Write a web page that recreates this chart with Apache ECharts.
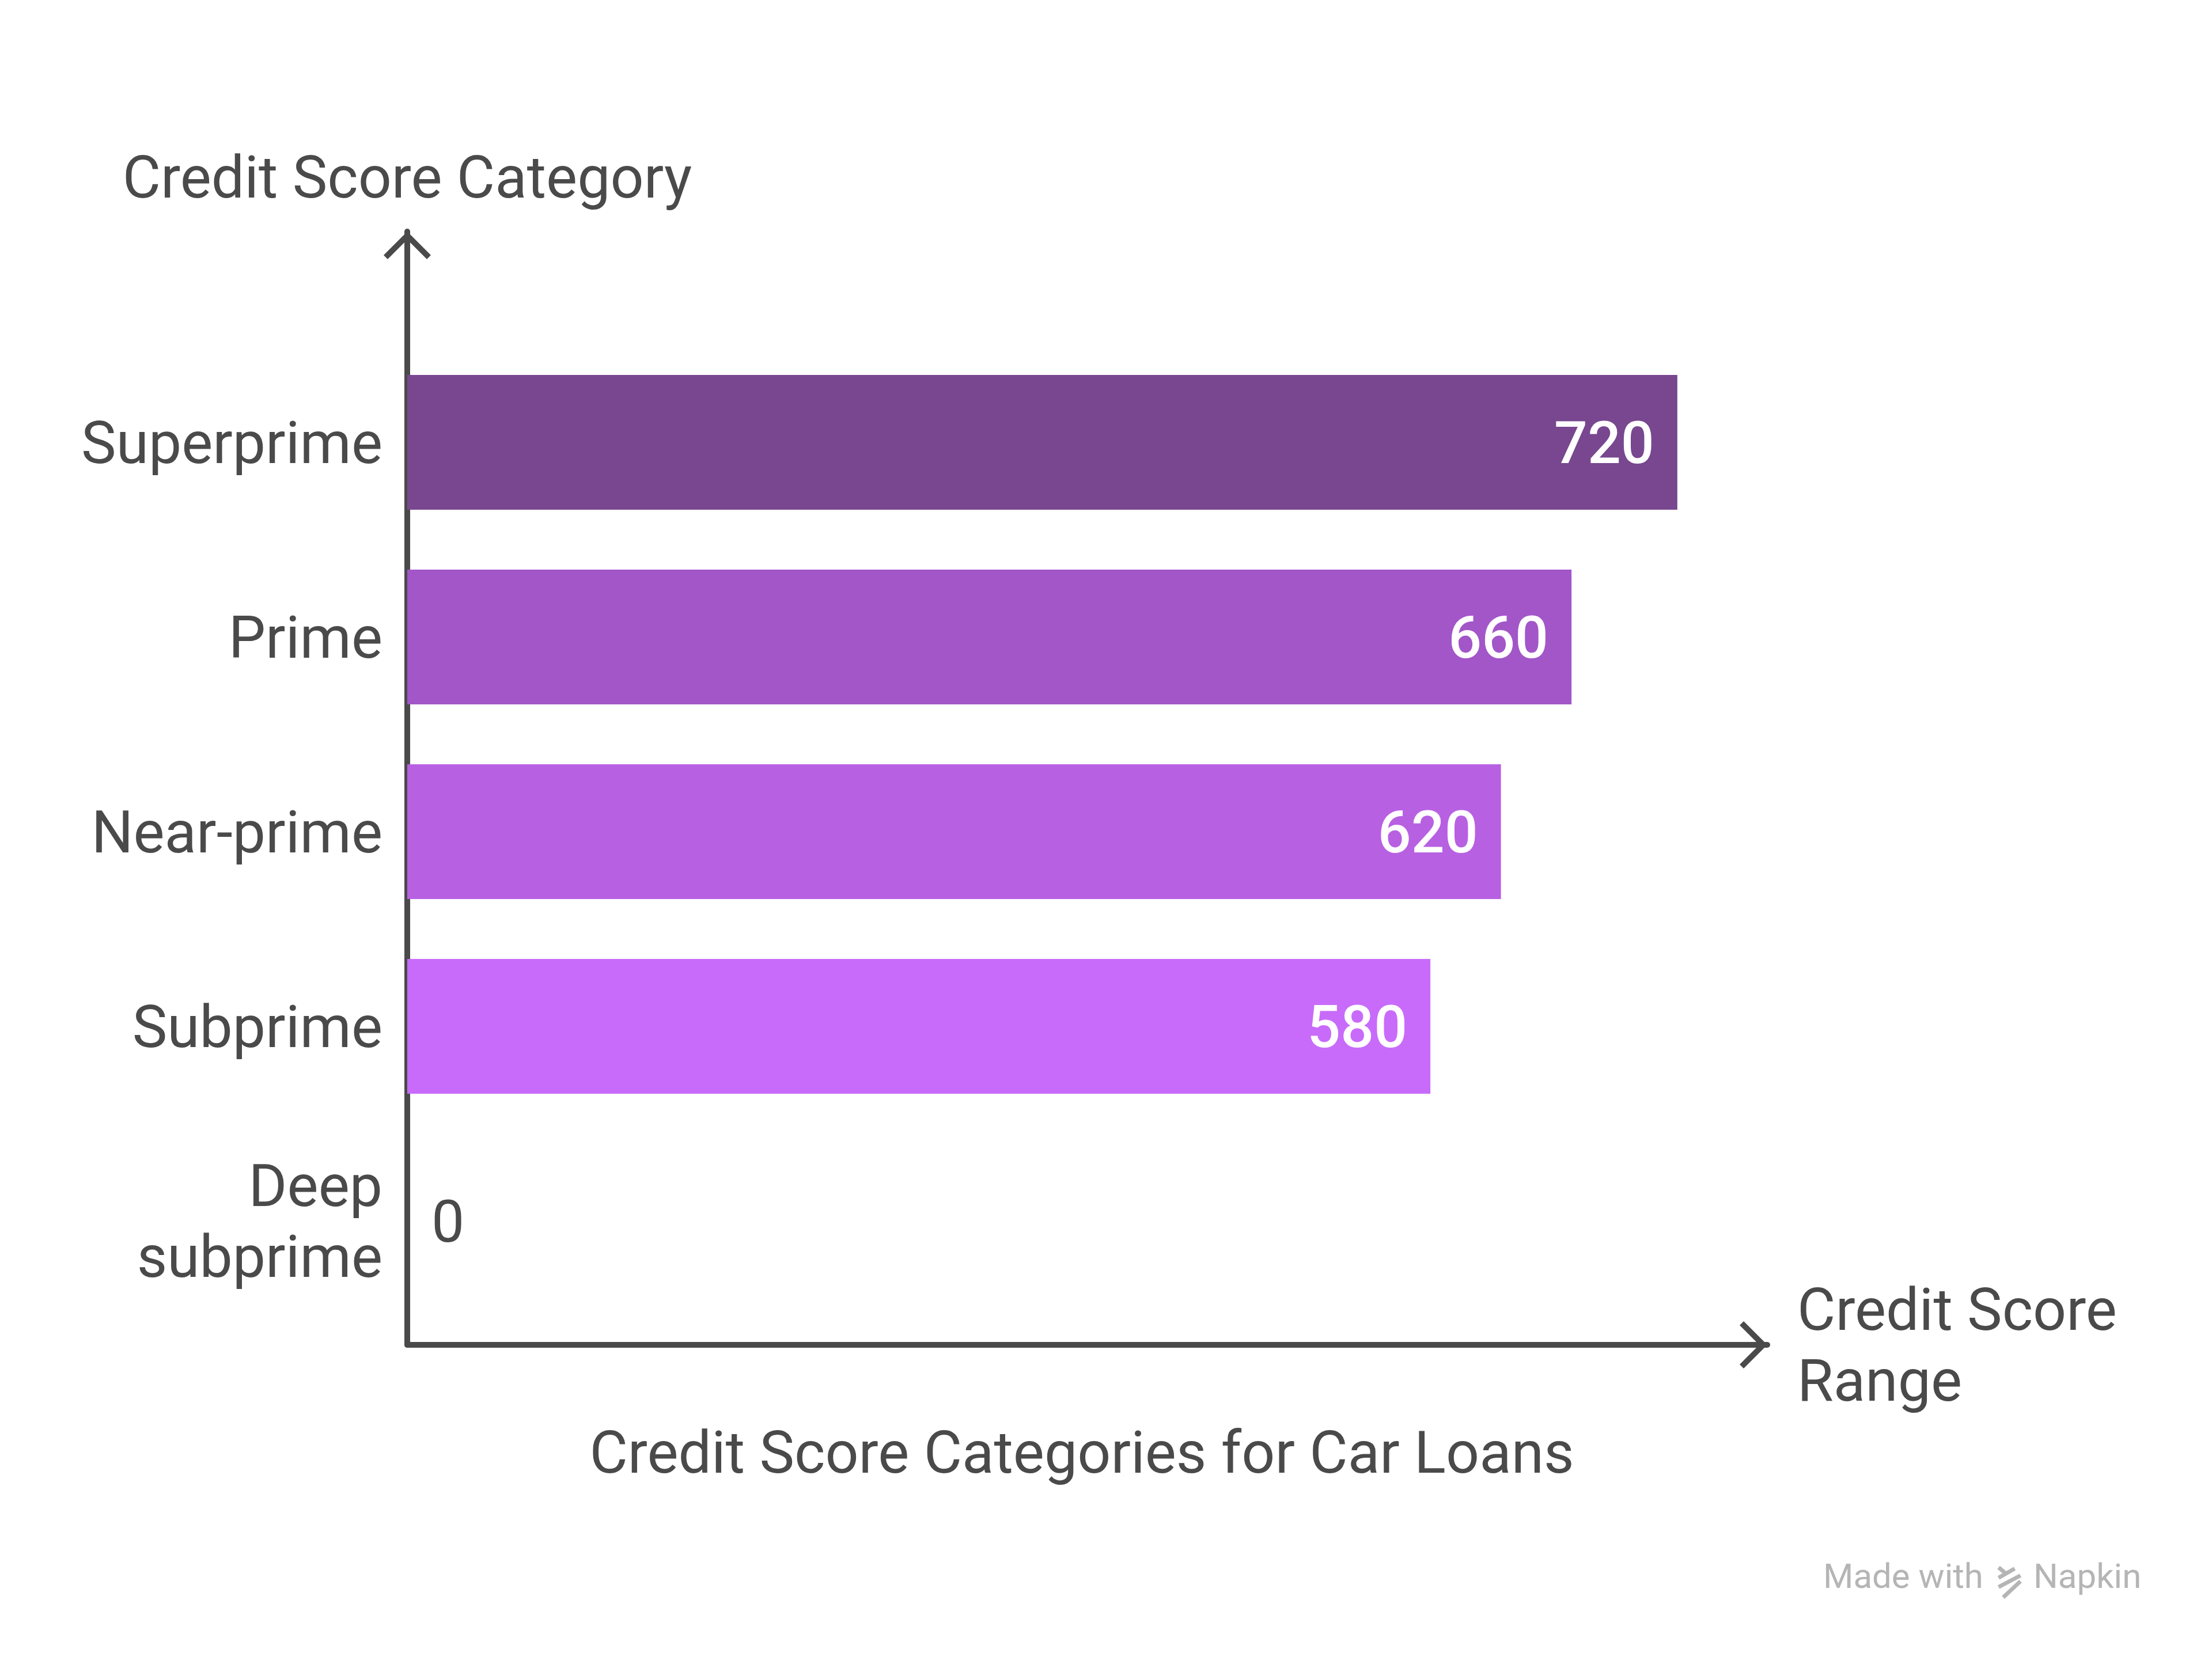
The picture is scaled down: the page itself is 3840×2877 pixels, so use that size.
<!DOCTYPE html>
<html>
<head>
<meta charset="utf-8">
<style>
  html, body { margin: 0; padding: 0; background: #ffffff; }
  #chart { width: 3840px; height: 2877px; }
</style>
<script src="https://cdn.jsdelivr.net/npm/echarts@6/dist/echarts.min.js"></script>
</head>
<body>
<div id="chart"></div>
<script>
// ---- data ----
var categories = ['Superprime', 'Prime', 'Near-prime', 'Subprime', 'Deep\nsubprime'];
var scores = [720, 660, 620, 580, 0];
var barColors = ['#78478F', '#A256C8', '#B860E2', '#C86BFA', '#D07BFF'];
var chartTitle = 'Credit Score Categories for Car Loans';
var xAxisName = 'Credit Score\nRange';
var yAxisName = 'Credit Score Category';

var FONT = 'Roboto';
var TEXT = '#4a4a4a';
var AXIS = '#4a4a4a';
var FS = 102;

// chevron arrow (pointing up), drawn as filled path
var chevron = 'path://M41,0 L82,41 L75,48 L41,14 L7,48 L0,41 Z';

// wrap multi-line text in rich tokens with a small spacer line on top (nudges text down)
function nudged(text) {
  return '{s| }\n' + text.split('\n').map(function (t) { return '{v|' + t + '}'; }).join('\n');
}
var richStyle = {
  s: { fontSize: 10, lineHeight: 20 },
  v: { fontFamily: FONT, fontSize: FS, color: TEXT, lineHeight: 123 }
};

var data = scores.map(function (v, i) {
  var item = { value: v, itemStyle: { color: barColors[i] } };
  if (v === 0) {
    item.label = { position: 'right', distance: 42, color: TEXT, fontWeight: 400 };
  }
  return item;
});

var chart = echarts.init(document.getElementById('chart'), null, { renderer: 'canvas' });
chart.setOption({
  backgroundColor: '#ffffff',
  animation: false,
  title: {
    text: chartTitle,
    left: 1873,
    top: 2475,
    textAlign: 'center',
    textStyle: { fontFamily: FONT, fontSize: FS, fontWeight: 400, color: TEXT }
  },
  grid: [
    { left: 707, right: 772, top: 599, bottom: 588 },
    { left: 707, right: 772, top: 402, bottom: 542 }
  ],
  xAxis: [
    { gridIndex: 0, type: 'value', min: 0, max: 771, show: false },
    {
      gridIndex: 1, type: 'value', min: 0, max: 1,
      axisLine: {
        show: true,
        lineStyle: { color: AXIS, width: 10 },
        symbol: ['none', chevron],
        symbolSize: [82, 48],
        symbolOffset: [0, -24]
      },
      axisTick: { show: false }, axisLabel: { show: false }, splitLine: { show: false },
      name: nudged(xAxisName), nameLocation: 'end', nameGap: 52,
      nameTextStyle: { fontFamily: FONT, fontSize: FS, color: TEXT, align: 'left', verticalAlign: 'middle', rich: richStyle }
    }
  ],
  yAxis: [
    {
      gridIndex: 0, type: 'category', data: categories, inverse: true,
      axisLine: { show: false }, axisTick: { show: false }, splitLine: { show: false },
      axisLabel: {
        fontFamily: FONT, fontSize: FS, color: TEXT, margin: 43, align: 'right',
        formatter: function (value) { return nudged(value); },
        rich: richStyle
      }
    },
    {
      gridIndex: 1, type: 'value', min: 0, max: 1,
      axisLine: {
        show: true,
        lineStyle: { color: AXIS, width: 10 },
        symbol: ['none', chevron],
        symbolSize: [82, 48],
        symbolOffset: [0, -24]
      },
      axisTick: { show: false }, axisLabel: { show: false }, splitLine: { show: false },
      name: yAxisName, nameLocation: 'end', nameGap: 85,
      nameTextStyle: { fontFamily: FONT, fontSize: FS, color: TEXT, align: 'center', verticalAlign: 'middle' }
    }
  ],
  series: [{
    type: 'bar',
    xAxisIndex: 0, yAxisIndex: 0,
    data: data,
    barCategoryGap: '30.8%',
    label: {
      show: true,
      position: 'insideRight',
      distance: 40,
      offset: [0, 10],
      fontFamily: FONT,
      fontSize: FS,
      fontWeight: 500,
      color: '#ffffff'
    }
  }],
  graphic: [
    {
      type: 'text', left: 3165, top: 2712,
      style: { text: 'Made with', font: '400 60px Roboto', fill: '#b5b5b5' }
    },
    {
      type: 'group', left: 3466, top: 2718,
      children: [
        { type: 'line', shape: { x1: 2, y1: 0, x2: 14, y2: 10 }, style: { stroke: '#b5b5b5', lineWidth: 7 } },
        { type: 'line', shape: { x1: 2, y1: 18, x2: 30, y2: 2 }, style: { stroke: '#b5b5b5', lineWidth: 7 } },
        { type: 'line', shape: { x1: 2, y1: 34, x2: 40, y2: 14 }, style: { stroke: '#b5b5b5', lineWidth: 7 } },
        { type: 'line', shape: { x1: 10, y1: 52, x2: 40, y2: 24 }, style: { stroke: '#b5b5b5', lineWidth: 7 } }
      ]
    },
    {
      type: 'text', left: 3530, top: 2712,
      style: { text: 'Napkin', font: '400 60px Roboto', fill: '#b5b5b5' }
    }
  ]
});
</script>
</body>
</html>
